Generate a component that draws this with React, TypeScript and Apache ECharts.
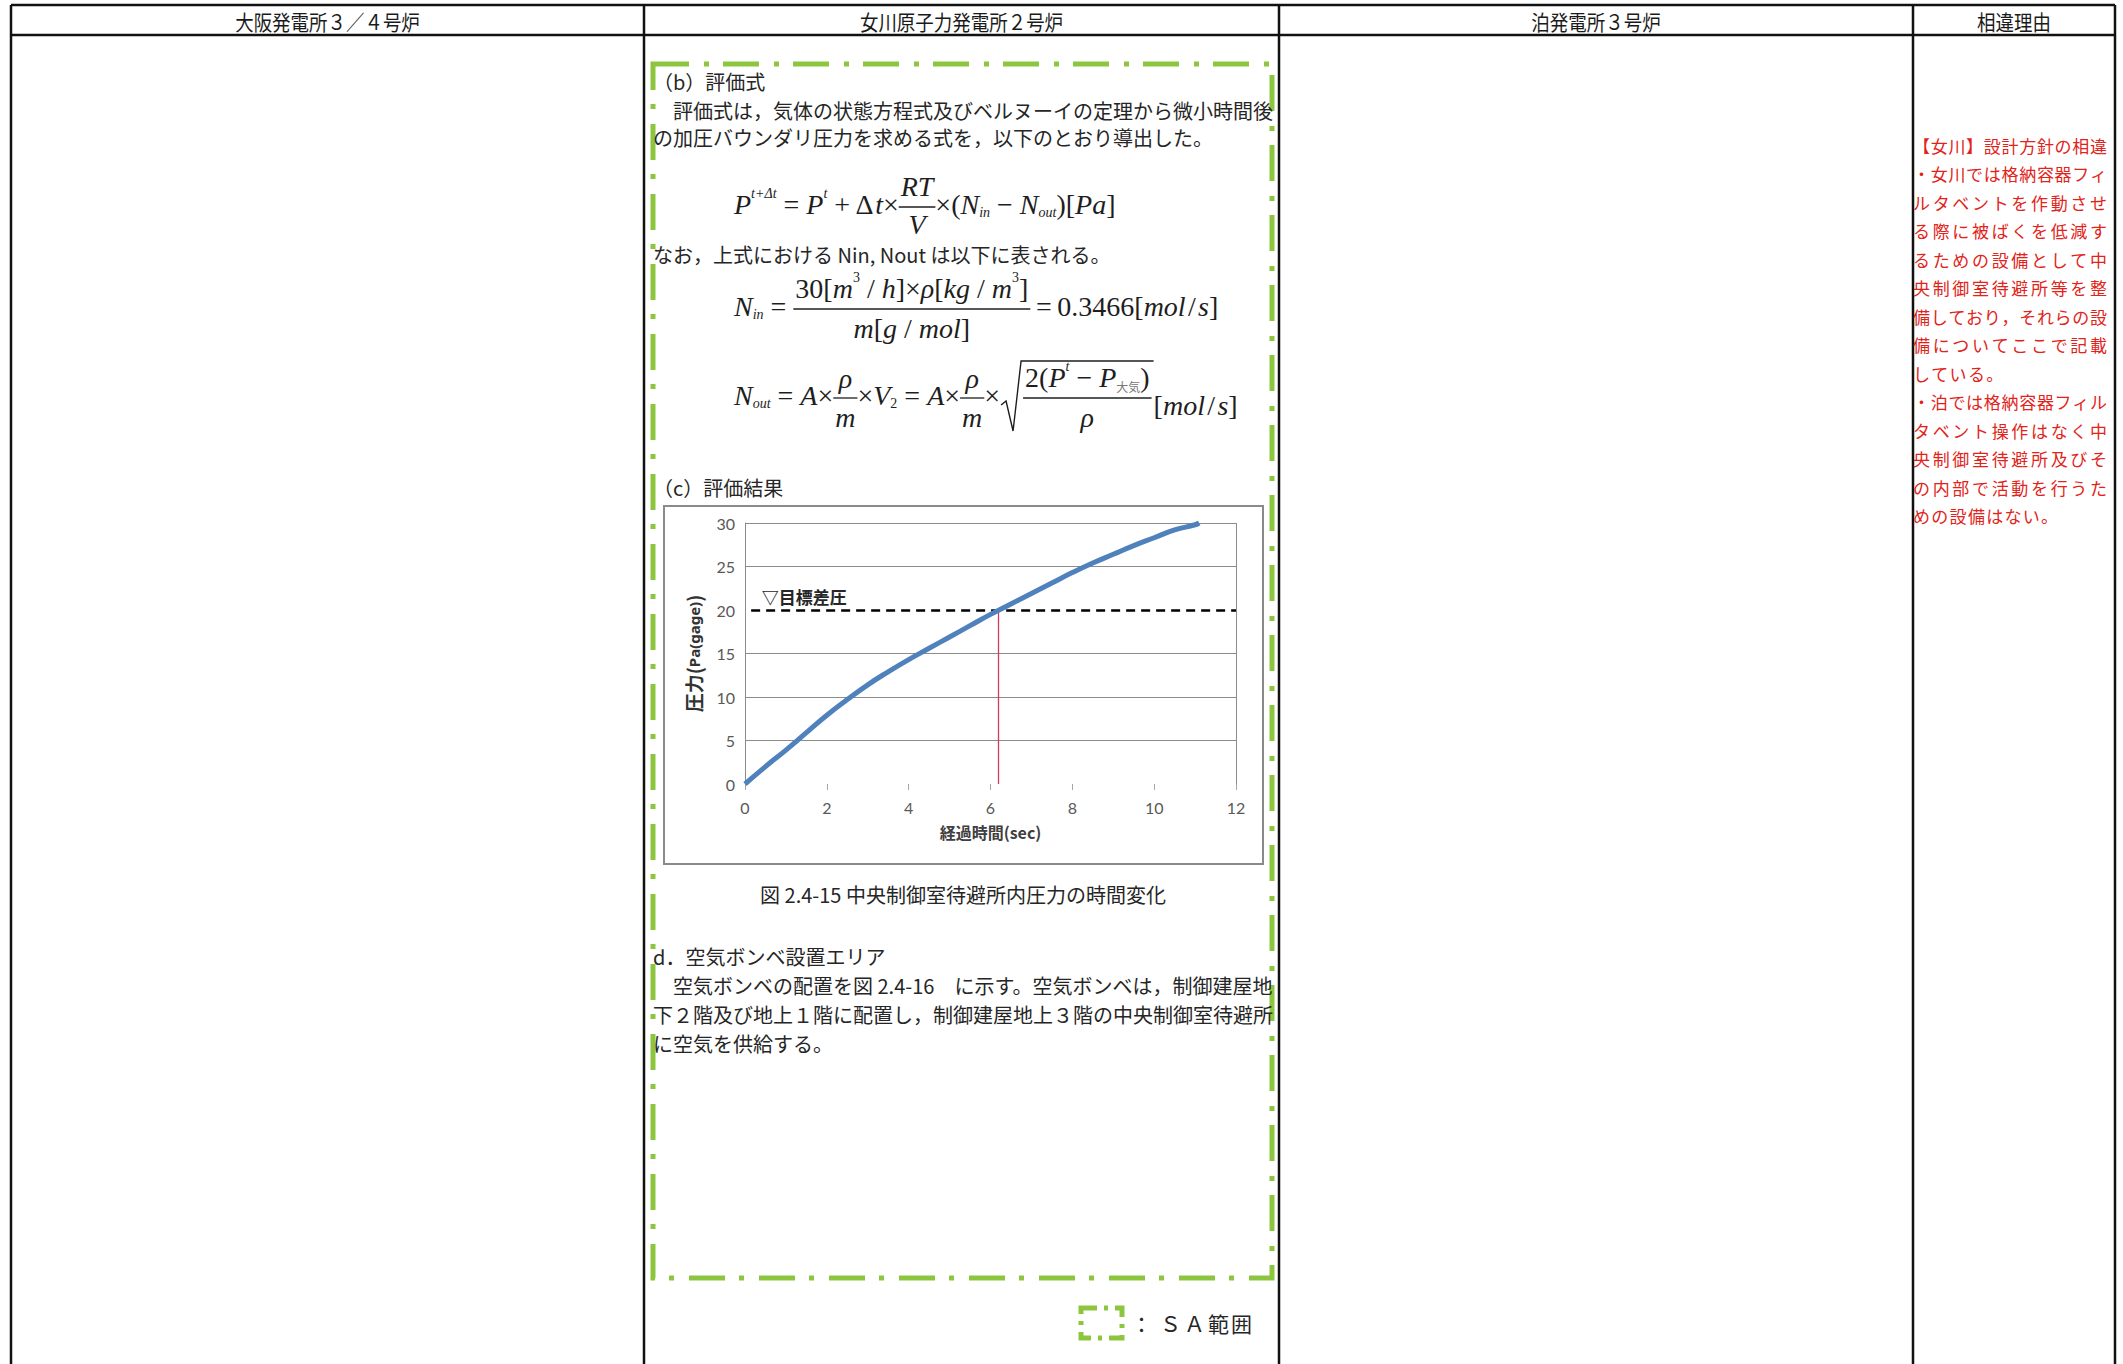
import React, { useEffect, useRef } from "react";
import * as echarts from "echarts";

// ---------- data ----------
const headerLabels = ["大阪発電所３／４号炉", "女川原子力発電所２号炉", "泊発電所３号炉", "相違理由"];
const timeSec = [0, 0.5, 1, 1.5, 2, 2.5, 3, 3.5, 4, 4.5, 5, 5.5, 6, 6.5, 7, 7.5, 8, 8.5, 9, 9.5, 10, 10.5, 11, 11.1];
const pressurePa = [0, 2.0, 3.9, 5.9, 7.9, 9.7, 11.4, 12.9, 14.3, 15.6, 16.9, 18.2, 19.5, 20.7, 21.9, 23.1, 24.3, 25.4, 26.4, 27.4, 28.3, 29.2, 29.8, 30.0];
const targetPressure = 20;
const crossTime = 6.2;
const targetLabel = "▽目標差圧";
const xAxisName = "経過時間(sec)";
const figureCaption = "図 2.4-15 中央制御室待避所内圧力の時間変化";
const topLines = [
  "（b）評価式",
  "　評価式は，気体の状態方程式及びベルヌーイの定理から微小時間後",
  "の加圧バウンダリ圧力を求める式を，以下のとおり導出した。",
];
const noteLine = "なお，上式における Nin, Nout は以下に表される。";
const resultTitle = "（c）評価結果";
const bottomLines = [
  "d．空気ボンベ設置エリア",
  "　空気ボンベの配置を図 2.4-16　に示す。空気ボンベは，制御建屋地",
  "下２階及び地上１階に配置し，制御建屋地上３階の中央制御室待避所",
  "に空気を供給する。",
];
const legendChars = ["：", "Ｓ", "Ａ", "範", "囲"];
const reasonLines = [
  "【女川】設計方針の相違",
  "・女川では格納容器フィ",
  "ルタベントを作動させ",
  "る際に被ばくを低減す",
  "るための設備として中",
  "央制御室待避所等を整",
  "備しており，それらの設",
  "備についてここで記載",
  "している。",
  "・泊では格納容器フィル",
  "タベント操作はなく中",
  "央制御室待避所及びそ",
  "の内部で活動を行うた",
  "めの設備はない。",
];
const reasonJustified = [true, true, true, true, true, true, true, true, false, true, true, true, true, false];

// ---------- helpers ----------
const MATH = "'Liberation Serif', 'Times New Roman', serif";
const CJK = "'Noto Sans CJK JP', 'Noto Sans', sans-serif";
const INK = "#1e1e1e";
const HS = "\u200A";

type Tok = { s: string; it?: boolean; sz?: number; dy?: number; cjk?: boolean; col?: string };

let measureCtx: CanvasRenderingContext2D | null = null;
function tw(t: Tok, base: number) {
  if (!measureCtx) measureCtx = document.createElement("canvas").getContext("2d");
  const ctx = measureCtx!;
  ctx.font = `${t.it ? "italic " : ""}${t.sz ?? base}px ${t.cjk ? CJK : MATH}`;
  return ctx.measureText(t.s).width;
}
function runW(toks: Tok[], base: number) {
  return toks.reduce((a, t) => a + tw(t, base), 0);
}
function txt(x: number, y: number, s: string, size: number, family: string, opts: any = {}) {
  const align = opts.align ?? "left";
  return {
    type: "text",
    x,
    y,
    silent: true,
    style: {
      text: s,
      fontSize: size,
      fontFamily: family,
      fontStyle: opts.italic ? "italic" : "normal",
      fontWeight: opts.weight ?? "normal",
      fill: opts.color ?? INK,
      textAlign: align,
      align,
      textVerticalAlign: "middle",
      verticalAlign: "middle",
    },
  };
}
function drawRun(els: any[], toks: Tok[], x: number, y: number, base: number) {
  for (const t of toks) {
    els.push(txt(x, y + (t.dy ?? 0), t.s, t.sz ?? base, t.cjk ? CJK : MATH, { italic: t.it, color: t.col }));
    x += tw(t, base);
  }
  return x;
}
function drawFrac(els: any[], num: Tok[], den: Tok[], x: number, y: number, base: number, up: number, down: number, pad = 3) {
  const nw = runW(num, base);
  const dw = runW(den, base);
  const w = Math.max(nw, dw) + 2 * pad;
  drawRun(els, num, x + (w - nw) / 2, y - up, base);
  drawRun(els, den, x + (w - dw) / 2, y + down, base);
  els.push({ type: "line", silent: true, shape: { x1: x, y1: y + 3, x2: x + w, y2: y + 3 }, style: { stroke: INK, lineWidth: 1.3 } });
  return x + w;
}

function buildGraphics() {
  const els: any[] = [];
  const B = 28;
  // ---- table ----
  const L = 11, R = 2115, T = 5, HB = 35, BOT = 1364;
  const cols = [644, 1279, 1913];
  const line = (x1: number, y1: number, x2: number, y2: number, w = 2.5, c = "#111") =>
    els.push({ type: "line", silent: true, shape: { x1, y1, x2, y2 }, style: { stroke: c, lineWidth: w } });
  line(L, T, R, T);
  line(L, HB, R, HB);
  line(L, T, L, BOT);
  line(R, T, R, BOT);
  cols.forEach((c) => line(c, T, c, BOT));
  const edges = [L, ...cols, R];
  headerLabels.forEach((h, i) => {
    els.push({
      ...txt((edges[i] + edges[i + 1]) / 2, 21, h, 21, CJK, { align: "center", color: "#1a1a1a" }),
      scaleX: 0.88,
    });
  });

  // ---- SA green dash-dot frame ----
  els.push({
    type: "rect",
    silent: true,
    shape: { x: 653, y: 64, width: 619, height: 1214 },
    style: { fill: "none", stroke: "#8cc63f", lineWidth: 5, lineDash: [36, 15, 5, 14] },
  });

  // ---- body text ----
  const bodyX = 653;
  const topY = [81, 110, 137];
  topLines.forEach((s, i) => els.push(txt(bodyX, topY[i], s, 20, CJK, { color: "#262626" })));
  els.push(txt(bodyX, 254, noteLine, 20, CJK, { color: "#262626" }));
  els.push(txt(bodyX, 487, resultTitle, 20, CJK, { color: "#262626" }));
  els.push(txt(963, 894, figureCaption, 20, CJK, { align: "center", color: "#262626" }));
  const botY = [956, 985, 1014, 1043];
  bottomLines.forEach((s, i) => els.push(txt(bodyX, botY[i], s, 20, CJK, { color: "#262626" })));

  // ---- formula 1 ----
  {
    const y = 204;
    let x = 734;
    x = drawRun(els, [
      { s: "P", it: true },
      { s: "t+Δt", it: true, sz: 14, dy: -11 },
      { s: " = " },
      { s: "P", it: true },
      { s: "t", it: true, sz: 14, dy: -11 },
      { s: " + Δ" },
      { s: "t", it: true },
      { s: "×" },
    ], x, y, B);
    x = drawFrac(els, [{ s: "RT", it: true }], [{ s: "V", it: true }], x, y, B, 18, 20, 2);
    drawRun(els, [
      { s: "×(" },
      { s: "N", it: true },
      { s: "in", it: true, sz: 14, dy: 8 },
      { s: " − " },
      { s: "N", it: true },
      { s: "out", it: true, sz: 14, dy: 8 },
      { s: ")[" },
      { s: "Pa", it: true },
      { s: "]" },
    ], x, y, B);
  }
  // ---- formula 2 ----
  {
    const y = 306;
    let x = 734;
    x = drawRun(els, [{ s: "N", it: true }, { s: "in", it: true, sz: 14, dy: 8 }, { s: " = " }], x, y, B);
    x = drawFrac(
      els,
      [
        { s: "30[" }, { s: "m", it: true }, { s: "3", sz: 14, dy: -11 }, { s: " / " }, { s: "h", it: true },
        { s: "]×" }, { s: "ρ", it: true }, { s: "[" }, { s: "kg", it: true }, { s: " / " }, { s: "m", it: true },
        { s: "3", sz: 14, dy: -11 }, { s: "]" },
      ],
      [{ s: "m", it: true }, { s: "[" }, { s: "g", it: true }, { s: " / " }, { s: "mol", it: true }, { s: "]" }],
      x, y, B, 18, 22, 2
    );
    drawRun(els, [{ s: "\u2009=\u20090.3466[" }, { s: "mol", it: true }, { s: HS + "/" + HS }, { s: "s", it: true }, { s: "]" }], x, y, B);
  }
  // ---- formula 3 ----
  {
    const y = 395;
    let x = 734;
    x = drawRun(els, [
      { s: "N", it: true }, { s: "out", it: true, sz: 14, dy: 8 }, { s: " = " }, { s: "A", it: true }, { s: "×" },
    ], x, y, B);
    x = drawFrac(els, [{ s: "ρ", it: true }], [{ s: "m", it: true }], x, y, B, 17, 22, 2);
    x = drawRun(els, [{ s: "×" }, { s: "V", it: true }, { s: "2", sz: 14, dy: 8 }, { s: " = " }, { s: "A", it: true }, { s: "×" }], x, y, B);
    x = drawFrac(els, [{ s: "ρ", it: true }], [{ s: "m", it: true }], x, y, B, 17, 22, 2);
    x = drawRun(els, [{ s: "×" }], x, y, B);
    const x0 = x + 1;
    const bodyStart = x0 + 22;
    const end = drawFrac(
      els,
      [
        { s: "2(" }, { s: "P", it: true }, { s: "t", it: true, sz: 14, dy: -11 }, { s: " − " }, { s: "P", it: true },
        { s: "大気", cjk: true, sz: 12, dy: 9, col: "#777" }, { s: ")" },
      ],
      [{ s: "ρ", it: true }],
      bodyStart, y, B, 18, 22, 2
    );
    els.push({
      type: "polyline",
      silent: true,
      shape: { points: [[x0, y + 10], [x0 + 5, y + 6], [x0 + 12, y + 36], [x0 + 20, y - 34], [end + 2, y - 34]] },
      style: { stroke: INK, lineWidth: 1.4, fill: "none" },
    });
    drawRun(els, [{ s: "[" }, { s: "mol", it: true }, { s: HS + "/" + HS }, { s: "s", it: true }, { s: "]" }], end + 2, y + 10, B);
  }

  // ---- chart frame ----
  els.push({
    type: "rect",
    silent: true,
    shape: { x: 664, y: 506, width: 599, height: 358 },
    style: { fill: "none", stroke: "#8a8a8a", lineWidth: 2 },
  });

  // ---- legend ----
  els.push({
    type: "rect",
    silent: true,
    shape: { x: 1081, y: 1308, width: 41, height: 30 },
    style: { fill: "none", stroke: "#8cc63f", lineWidth: 5, lineDash: [16, 7, 4, 7] },
  });
  const legX = [1131, 1160, 1184, 1208, 1231];
  legendChars.forEach((c, i) => els.push(txt(legX[i], 1323, c, 21, CJK, { color: "#262626" })));

  // ---- reason column (red, justified) ----
  const rx0 = 1913, rx1 = 2107, rsz = 17;
  reasonLines.forEach((s, i) => {
    const chars = Array.from(s);
    const y = 145 + i * 28.5;
    const pitch = reasonJustified[i] ? (rx1 - rsz - rx0) / (chars.length - 1) : 18.3;
    chars.forEach((c, j) => els.push(txt(rx0 + j * pitch, y, c, rsz, CJK, { color: "#e2231a" })));
  });
  return els;
}

function buildOption() {
  const gridColors = ["rgba(0,0,0,0)", "#8c8c8c", "#8c8c8c", "#8c8c8c", "rgba(0,0,0,0)", "#8c8c8c", "#8c8c8c"];
  return {
    animation: false,
    backgroundColor: "#ffffff",
    grid: { left: 745, top: 523, width: 491, height: 261 },
    xAxis: {
      type: "value",
      min: 0,
      max: 12,
      interval: 2,
      axisLine: { show: false },
      axisTick: { show: true, length: 6, lineStyle: { color: "#a6a6a6", width: 1 } },
      splitLine: { show: false },
      axisLabel: { color: "#595959", fontSize: 16, fontFamily: "Lato, 'Noto Sans', sans-serif", margin: 15 },
      name: xAxisName,
      nameLocation: "middle",
      nameGap: 40,
      nameTextStyle: { color: "#404040", fontSize: 16, fontWeight: "bold", fontFamily: CJK },
    },
    yAxis: {
      type: "value",
      min: 0,
      max: 30,
      interval: 5,
      axisLine: { show: true, lineStyle: { color: "#8c8c8c", width: 1 } },
      axisTick: { show: false },
      splitLine: { show: true, lineStyle: { color: gridColors, width: 1 } },
      axisLabel: { color: "#595959", fontSize: 16, fontFamily: "Lato, 'Noto Sans', sans-serif", margin: 10 },
      name: "{a|圧力(}{b|Pa(gage)}{a|)}",
      nameLocation: "middle",
      nameGap: 42,
      nameRotate: 90,
      nameTextStyle: {
        rich: {
          a: { fontSize: 19, fontWeight: "bold", fontFamily: CJK, color: "#333" },
          b: { fontSize: 15, fontWeight: "bold", fontFamily: "'Noto Sans', sans-serif", color: "#333" },
        },
      },
    },
    series: [
      {
        type: "line",
        data: timeSec.map((t, i) => [t, pressurePa[i]]),
        smooth: true,
        symbol: "none",
        lineStyle: { color: "#4f81bd", width: 5 },
        z: 5,
        markLine: {
          silent: true,
          symbol: ["none", "none"],
          label: { show: false },
          data: [
            [
              { coord: [0.15, targetPressure], lineStyle: { color: "#000", width: 2.5, type: [9, 6] } },
              { coord: [12, targetPressure] },
            ],
            [
              { coord: [crossTime, targetPressure], lineStyle: { color: "#d43a5c", width: 1.3, type: "solid" } },
              { coord: [crossTime, 0] },
            ],
            [
              { coord: [12, 0], lineStyle: { color: "#8c8c8c", width: 1, type: "solid" } },
              { coord: [12, 30] },
            ],
          ],
        },
        markPoint: {
          silent: true,
          symbol: "circle",
          symbolSize: 1,
          itemStyle: { color: "rgba(0,0,0,0)" },
          label: {
            show: true,
            position: "right",
            distance: 0,
            formatter: targetLabel,
            fontSize: 17,
            fontWeight: "bold",
            fontFamily: CJK,
            color: "#262626",
          },
          data: [{ coord: [0.4, 21.6] }],
        },
      },
    ],
    graphic: buildGraphics(),
  };
}

export default function App() {
  const ref = useRef<HTMLDivElement>(null);
  useEffect(() => {
    const chart = echarts.init(ref.current!, null, { renderer: "svg" });
    chart.setOption(buildOption() as any);
    return () => chart.dispose();
  }, []);
  return (
    <div
      ref={ref}
      style={{ position: "fixed", left: 0, top: 0, width: 2123, height: 1364, background: "#fff" }}
    />
  );
}
